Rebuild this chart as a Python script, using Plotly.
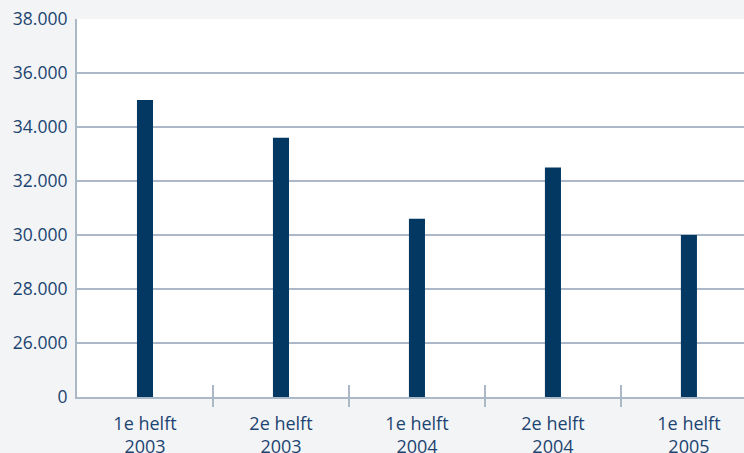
import plotly.graph_objects as go

categories = ["1e helft<br>2003", "2e helft<br>2003", "1e helft<br>2004", "2e helft<br>2004", "1e helft<br>2005"]
values = [35000, 33600, 30600, 32500, 30000]
y_ticks = [0, 26000, 28000, 30000, 32000, 34000, 36000, 38000]
y_ticktext = ["0", "26.000", "28.000", "30.000", "32.000", "34.000", "36.000", "38.000"]

BREAK_BASE = 24000  # axis break: 0 is drawn where 24.000 would be


def to_axis(v):
    return 0 if v == 0 else v - BREAK_BASE


GRID = "#aab8c7"
TEXT = "#1d4471"
BAR = "#033863"
BG = "#f3f4f6"
FONT = "Open Sans"

xpos = list(range(len(categories)))
bounds = [i + 0.5 for i in range(len(categories) - 1)]

fig = go.Figure()
fig.add_trace(go.Bar(x=xpos, y=[to_axis(v) for v in values], marker=dict(color=BAR, line=dict(width=0)),
                     width=0.118, hoverinfo="skip"))
# invisible helper traces so the tick-overlay axes are drawn
fig.add_trace(go.Scatter(x=[0], y=[0], xaxis="x2", mode="markers", marker=dict(opacity=0), hoverinfo="skip"))
fig.add_trace(go.Scatter(x=[0], y=[0], xaxis="x3", mode="markers", marker=dict(opacity=0), hoverinfo="skip"))

xr = [-0.5, 4.405]
fig.update_layout(
    width=744, height=453,
    margin=dict(l=77, r=0, t=19, b=56, autoexpand=False),
    paper_bgcolor=BG, plot_bgcolor="white",
    showlegend=False,
    font=dict(family=FONT, size=18, color=TEXT),
    xaxis=dict(range=xr, tickvals=xpos, ticktext=categories, ticks="", showgrid=False, zeroline=False,
               showline=True, linecolor=GRID, linewidth=2, ticklabelstandoff=9, automargin=False,
               tickfont=dict(size=18, color=TEXT)),
    xaxis2=dict(range=xr, overlaying="x", anchor="y", side="bottom", tickvals=bounds, ticks="outside",
                ticklen=9, tickwidth=2, tickcolor=GRID, showticklabels=False, showgrid=False,
                zeroline=False, showline=False, automargin=False),
    xaxis3=dict(range=xr, overlaying="x", anchor="y", side="bottom", tickvals=bounds, ticks="inside",
                ticklen=12, tickwidth=2, tickcolor=GRID, showticklabels=False, showgrid=False,
                zeroline=False, showline=False, automargin=False),
    yaxis=dict(range=[0, 14000], tickvals=[to_axis(v) for v in y_ticks], ticktext=y_ticktext, ticks="",
               showgrid=True, gridcolor=GRID, gridwidth=2, zeroline=False, showline=True, linecolor=GRID,
               linewidth=2, ticklabelstandoff=4, automargin=False, tickfont=dict(size=17.5, color=TEXT)),
)

fig.write_html("out.html")
